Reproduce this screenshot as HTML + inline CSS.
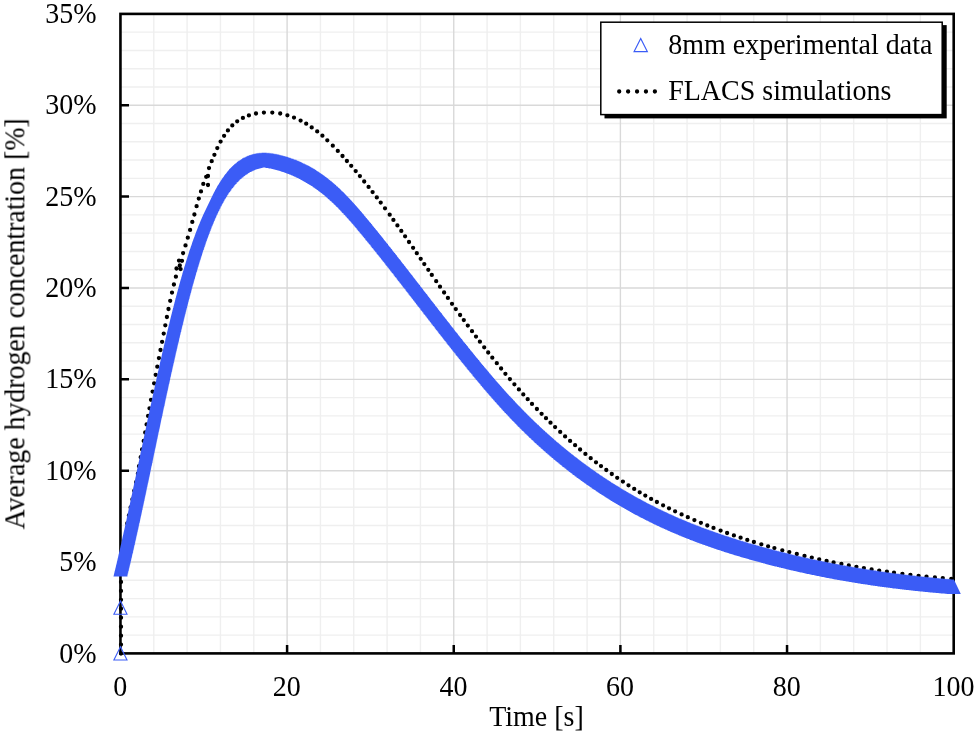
<!DOCTYPE html><html><head><meta charset="utf-8"><style>html,body{margin:0;padding:0;background:#fff}svg{display:block}.tx{filter:grayscale(1)}text{font-family:"Liberation Serif",serif;font-size:28px;fill:#000}</style></head><body>
<svg width="979" height="737" viewBox="0 0 979 737">
<path d="M153.78 13.9V653.4M187.11 13.9V653.4M220.44 13.9V653.4M253.77 13.9V653.4M320.43 13.9V653.4M353.76 13.9V653.4M387.09 13.9V653.4M420.42 13.9V653.4M487.08 13.9V653.4M520.41 13.9V653.4M553.74 13.9V653.4M587.07 13.9V653.4M653.73 13.9V653.4M687.06 13.9V653.4M720.39 13.9V653.4M753.72 13.9V653.4M820.38 13.9V653.4M853.71 13.9V653.4M887.04 13.9V653.4M920.37 13.9V653.4M120.5 635.13H953.7M120.5 616.86H953.7M120.5 598.59H953.7M120.5 580.31H953.7M120.5 543.77H953.7M120.5 525.50H953.7M120.5 507.23H953.7M120.5 488.96H953.7M120.5 452.41H953.7M120.5 434.14H953.7M120.5 415.87H953.7M120.5 397.60H953.7M120.5 361.06H953.7M120.5 342.79H953.7M120.5 324.51H953.7M120.5 306.24H953.7M120.5 269.70H953.7M120.5 251.43H953.7M120.5 233.16H953.7M120.5 214.89H953.7M120.5 178.34H953.7M120.5 160.07H953.7M120.5 141.80H953.7M120.5 123.53H953.7M120.5 86.99H953.7M120.5 68.71H953.7M120.5 50.44H953.7M120.5 32.17H953.7" stroke="#efefef" stroke-width="1.4" fill="none"/>
<path d="M287.10 13.9V653.4M453.75 13.9V653.4M620.40 13.9V653.4M787.05 13.9V653.4M120.5 562.04H953.7M120.5 470.69H953.7M120.5 379.33H953.7M120.5 287.97H953.7M120.5 196.61H953.7M120.5 105.26H953.7" stroke="#d9d9d9" stroke-width="1.4" fill="none"/>
<path d="M287.10 653.4v-8.5M453.75 653.4v-8.5M620.40 653.4v-8.5M787.05 653.4v-8.5M120.5 562.04h8.5M120.5 470.69h8.5M120.5 379.33h8.5M120.5 287.97h8.5M120.5 196.61h8.5M120.5 105.26h8.5" stroke="#000" stroke-width="2.5" fill="none"/>
<rect x="120.45" y="13.90" width="833.25" height="639.50" stroke="#000" stroke-width="2.6" fill="none"/>
<path d="M139.0 466.2h0M140.7 457.2h0M142.1 449.5h0M143.7 440.9h0M145.2 432.5h0M146.6 424.4h0M148.1 415.9h0M149.5 408.3h0M151.0 399.8h0M152.6 391.6h0M154.1 383.3h0M155.7 374.8h0M157.3 366.7h0M158.9 358.1h0M160.5 350.0h0M162.1 341.8h0M163.7 333.6h0M165.3 325.3h0M166.9 317.0h0M168.5 309.0h0M170.2 300.8h0M172.0 292.6h0M173.9 284.5h0M175.9 276.7h0M183.1 253.1h0M185.5 245.4h0M187.8 237.7h0M190.1 229.9h0M192.3 221.9h0M194.4 214.5h0M196.6 206.2h0M198.8 198.6h0M201.0 191.4h0M209.0 168.1h0M211.7 161.2h0M214.4 154.8h0M217.3 148.1h0M220.6 141.6h0M224.1 135.8h0M227.9 130.4h0M232.3 125.4h0M237.2 121.3h0M242.9 117.9h0M248.9 115.4h0M256.0 113.5h0M263.9 112.6h0M272.3 112.6h0M280.2 113.5h0M287.4 115.3h0M294.0 117.6h0M300.6 120.6h0M306.2 123.7h0M311.7 127.4h0M317.2 131.4h0M322.4 135.7h0M327.3 140.3h0M332.8 145.7h0M337.8 150.9h0M342.5 156.0h0M346.9 161.0h0M351.2 165.8h0M355.7 171.1h0M359.9 176.1h0M364.2 181.5h0M368.6 186.9h0M372.6 192.1h0M376.8 197.4h0M380.7 202.6h0M385.0 208.3h0M389.7 214.7h0M393.4 219.9h0M397.4 225.4h0M401.3 230.9h0M405.1 236.3h0M409.0 242.0h0M413.1 247.8h0M416.8 253.2h0M420.7 258.8h0M424.3 264.1h0M428.3 269.8h0M431.8 274.9h0M436.2 281.2h0M440.0 286.7h0M444.1 292.5h0M447.9 297.9h0M452.0 303.8h0M455.8 309.1h0M460.1 315.0h0M463.8 320.1h0M467.8 325.6h0M472.0 331.2h0M476.0 336.6h0M479.9 341.7h0M484.2 347.3h0M488.2 352.5h0M492.3 357.7h0M496.8 363.2h0M501.1 368.5h0M505.4 373.8h0M509.9 379.1h0M514.4 384.3h0M518.9 389.4h0M523.3 394.4h0M527.7 399.2h0M532.0 403.9h0M536.9 409.0h0M541.6 413.8h0M546.0 418.2h0M550.5 422.7h0M555.1 427.1h0M560.2 431.9h0M565.1 436.4h0M570.1 440.9h0M575.1 445.2h0M580.1 449.5h0M585.4 453.9h0M590.7 458.2h0M596.0 462.3h0M601.0 466.1h0M606.3 470.0h0M611.8 474.0h0M617.2 477.8h0M622.9 481.6h0M628.5 485.3h0M634.2 488.9h0M639.7 492.3h0M645.3 495.6h0M651.1 498.9h0M656.9 502.0h0M663.1 505.3h0M669.0 508.3h0M675.1 511.3h0M681.6 514.4h0M687.8 517.2h0M694.4 520.1h0M700.9 522.8h0M707.3 525.5h0M713.5 527.9h0M720.6 530.6h0M727.1 533.0h0M733.9 535.4h0M740.6 537.7h0M747.3 539.9h0M753.9 542.0h0M761.3 544.3h0M768.1 546.3h0M774.4 548.1h0M782.3 550.3h0M789.3 552.1h0M796.8 554.0h0M804.5 555.9h0M811.8 557.6h0M819.2 559.3h0M826.6 561.0h0M833.6 562.4h0M841.4 564.0h0M848.8 565.4h0M856.4 566.8h0M863.9 568.1h0M871.6 569.4h0M879.2 570.6h0M886.9 571.7h0M894.0 572.7h0M902.4 573.8h0M910.4 574.8h0M918.6 575.8h0M926.5 576.6h0M934.9 577.4h0M942.8 578.1h0M951.3 578.8h0M179.0 260.6h0M182.0 260.8h0M179.8 265.5h0M176.5 268.5h0M180.6 269.1h0M206.2 176.8h0M208.0 176.0h0M203.3 183.9h0M208.0 185.0h0M137.9 473.7h0M136.1 482.2h0M134.2 490.8h0M132.4 499.3h0M130.6 507.5h0M128.9 515.5h0M127.2 523.5h0M121.0 653.5h0M121.0 644.6h0M121.0 635.7h0M121.0 626.7h0M121.0 617.7h0M121.0 608.7h0M121.0 599.8h0M121.0 590.9h0M121.0 582.0h0M121.0 573.5h0" fill="none" stroke="#000" stroke-width="4.3" stroke-linecap="round"/>
<path d="M120.5 561.7l7.1 14.8h-14.2zM120.7 560.7l7.1 14.8h-14.2zM120.9 559.8l7.1 14.8h-14.2zM121.2 558.8l7.1 14.8h-14.2zM121.4 557.8l7.1 14.8h-14.2zM121.6 556.8l7.1 14.8h-14.2zM121.9 555.9l7.1 14.8h-14.2zM122.1 554.9l7.1 14.8h-14.2zM122.3 553.9l7.1 14.8h-14.2zM122.6 553.0l7.1 14.8h-14.2zM122.8 552.0l7.1 14.8h-14.2zM123.0 551.0l7.1 14.8h-14.2zM123.3 550.0l7.1 14.8h-14.2zM123.5 549.1l7.1 14.8h-14.2zM123.7 548.1l7.1 14.8h-14.2zM123.9 547.1l7.1 14.8h-14.2zM124.2 546.1l7.1 14.8h-14.2zM124.4 545.2l7.1 14.8h-14.2zM124.6 544.2l7.1 14.8h-14.2zM124.9 543.2l7.1 14.8h-14.2zM125.1 542.2l7.1 14.8h-14.2zM125.3 541.3l7.1 14.8h-14.2zM125.5 540.3l7.1 14.8h-14.2zM125.8 539.3l7.1 14.8h-14.2zM126.0 538.3l7.1 14.8h-14.2zM126.2 537.4l7.1 14.8h-14.2zM126.4 536.4l7.1 14.8h-14.2zM126.7 535.4l7.1 14.8h-14.2zM126.9 534.4l7.1 14.8h-14.2zM127.1 533.5l7.1 14.8h-14.2zM127.3 532.5l7.1 14.8h-14.2zM127.5 531.5l7.1 14.8h-14.2zM127.8 530.5l7.1 14.8h-14.2zM128.0 529.6l7.1 14.8h-14.2zM128.2 528.6l7.1 14.8h-14.2zM128.4 527.6l7.1 14.8h-14.2zM128.6 526.6l7.1 14.8h-14.2zM128.9 525.6l7.1 14.8h-14.2zM129.1 524.7l7.1 14.8h-14.2zM129.3 523.7l7.1 14.8h-14.2zM129.5 522.7l7.1 14.8h-14.2zM129.7 521.7l7.1 14.8h-14.2zM130.0 520.8l7.1 14.8h-14.2zM130.2 519.8l7.1 14.8h-14.2zM130.4 518.8l7.1 14.8h-14.2zM130.6 517.8l7.1 14.8h-14.2zM130.8 516.9l7.1 14.8h-14.2zM131.0 515.9l7.1 14.8h-14.2zM131.3 514.9l7.1 14.8h-14.2zM131.5 513.9l7.1 14.8h-14.2zM131.7 512.9l7.1 14.8h-14.2zM131.9 512.0l7.1 14.8h-14.2zM132.1 511.0l7.1 14.8h-14.2zM132.3 510.0l7.1 14.8h-14.2zM132.5 509.0l7.1 14.8h-14.2zM132.8 508.1l7.1 14.8h-14.2zM133.0 507.1l7.1 14.8h-14.2zM133.2 506.1l7.1 14.8h-14.2zM133.4 505.1l7.1 14.8h-14.2zM133.6 504.1l7.1 14.8h-14.2zM133.8 503.2l7.1 14.8h-14.2zM134.0 502.2l7.1 14.8h-14.2zM134.3 501.2l7.1 14.8h-14.2zM134.5 500.2l7.1 14.8h-14.2zM134.7 499.3l7.1 14.8h-14.2zM134.9 498.3l7.1 14.8h-14.2zM135.1 497.3l7.1 14.8h-14.2zM135.3 496.3l7.1 14.8h-14.2zM135.5 495.3l7.1 14.8h-14.2zM135.7 494.4l7.1 14.8h-14.2zM135.9 493.4l7.1 14.8h-14.2zM136.1 492.4l7.1 14.8h-14.2zM136.4 491.4l7.1 14.8h-14.2zM136.6 490.5l7.1 14.8h-14.2zM136.8 489.5l7.1 14.8h-14.2zM137.0 488.5l7.1 14.8h-14.2zM137.2 487.5l7.1 14.8h-14.2zM137.4 486.5l7.1 14.8h-14.2zM137.6 485.6l7.1 14.8h-14.2zM137.8 484.6l7.1 14.8h-14.2zM138.0 483.6l7.1 14.8h-14.2zM138.2 482.6l7.1 14.8h-14.2zM138.4 481.6l7.1 14.8h-14.2zM138.7 480.7l7.1 14.8h-14.2zM138.9 479.7l7.1 14.8h-14.2zM139.1 478.7l7.1 14.8h-14.2zM139.3 477.7l7.1 14.8h-14.2zM139.5 476.7l7.1 14.8h-14.2zM139.7 475.8l7.1 14.8h-14.2zM139.9 474.8l7.1 14.8h-14.2zM140.1 473.8l7.1 14.8h-14.2zM140.3 472.8l7.1 14.8h-14.2zM140.5 471.9l7.1 14.8h-14.2zM140.7 470.9l7.1 14.8h-14.2zM140.9 469.9l7.1 14.8h-14.2zM141.1 468.9l7.1 14.8h-14.2zM141.4 467.9l7.1 14.8h-14.2zM141.6 467.0l7.1 14.8h-14.2zM141.8 466.0l7.1 14.8h-14.2zM142.0 465.0l7.1 14.8h-14.2zM142.2 464.0l7.1 14.8h-14.2zM142.4 463.0l7.1 14.8h-14.2zM142.6 462.1l7.1 14.8h-14.2zM142.8 461.1l7.1 14.8h-14.2zM143.0 460.1l7.1 14.8h-14.2zM143.2 459.1l7.1 14.8h-14.2zM143.4 458.1l7.1 14.8h-14.2zM143.6 457.2l7.1 14.8h-14.2zM143.8 456.2l7.1 14.8h-14.2zM144.0 455.2l7.1 14.8h-14.2zM144.2 454.2l7.1 14.8h-14.2zM144.4 453.2l7.1 14.8h-14.2zM144.6 452.3l7.1 14.8h-14.2zM144.9 451.3l7.1 14.8h-14.2zM145.1 450.3l7.1 14.8h-14.2zM145.3 449.3l7.1 14.8h-14.2zM145.5 448.3l7.1 14.8h-14.2zM145.7 447.4l7.1 14.8h-14.2zM145.9 446.4l7.1 14.8h-14.2zM146.1 445.4l7.1 14.8h-14.2zM146.3 444.4l7.1 14.8h-14.2zM146.5 443.4l7.1 14.8h-14.2zM146.7 442.5l7.1 14.8h-14.2zM146.9 441.5l7.1 14.8h-14.2zM147.1 440.5l7.1 14.8h-14.2zM147.3 439.5l7.1 14.8h-14.2zM147.5 438.5l7.1 14.8h-14.2zM147.7 437.6l7.1 14.8h-14.2zM147.9 436.6l7.1 14.8h-14.2zM148.1 435.6l7.1 14.8h-14.2zM148.3 434.6l7.1 14.8h-14.2zM148.6 433.7l7.1 14.8h-14.2zM148.8 432.7l7.1 14.8h-14.2zM149.0 431.7l7.1 14.8h-14.2zM149.2 430.7l7.1 14.8h-14.2zM149.4 429.7l7.1 14.8h-14.2zM149.6 428.8l7.1 14.8h-14.2zM149.8 427.8l7.1 14.8h-14.2zM150.0 426.8l7.1 14.8h-14.2zM150.2 425.8l7.1 14.8h-14.2zM150.4 424.8l7.1 14.8h-14.2zM150.6 423.9l7.1 14.8h-14.2zM150.8 422.9l7.1 14.8h-14.2zM151.0 421.9l7.1 14.8h-14.2zM151.2 420.9l7.1 14.8h-14.2zM151.4 419.9l7.1 14.8h-14.2zM151.6 419.0l7.1 14.8h-14.2zM151.8 418.0l7.1 14.8h-14.2zM152.1 417.0l7.1 14.8h-14.2zM152.3 416.0l7.1 14.8h-14.2zM152.5 415.0l7.1 14.8h-14.2zM152.7 414.1l7.1 14.8h-14.2zM152.9 413.1l7.1 14.8h-14.2zM153.1 412.1l7.1 14.8h-14.2zM153.3 411.1l7.1 14.8h-14.2zM153.5 410.1l7.1 14.8h-14.2zM153.7 409.2l7.1 14.8h-14.2zM153.9 408.2l7.1 14.8h-14.2zM154.1 407.2l7.1 14.8h-14.2zM154.3 406.2l7.1 14.8h-14.2zM154.5 405.3l7.1 14.8h-14.2zM154.7 404.3l7.1 14.8h-14.2zM155.0 403.3l7.1 14.8h-14.2zM155.2 402.3l7.1 14.8h-14.2zM155.4 401.3l7.1 14.8h-14.2zM155.6 400.4l7.1 14.8h-14.2zM155.8 399.4l7.1 14.8h-14.2zM156.0 398.4l7.1 14.8h-14.2zM156.2 397.4l7.1 14.8h-14.2zM156.4 396.4l7.1 14.8h-14.2zM156.6 395.5l7.1 14.8h-14.2zM156.8 394.5l7.1 14.8h-14.2zM157.0 393.5l7.1 14.8h-14.2zM157.3 392.5l7.1 14.8h-14.2zM157.5 391.5l7.1 14.8h-14.2zM157.7 390.6l7.1 14.8h-14.2zM157.9 389.6l7.1 14.8h-14.2zM158.1 388.6l7.1 14.8h-14.2zM158.3 387.6l7.1 14.8h-14.2zM158.5 386.7l7.1 14.8h-14.2zM158.7 385.7l7.1 14.8h-14.2zM158.9 384.7l7.1 14.8h-14.2zM159.2 383.7l7.1 14.8h-14.2zM159.4 382.7l7.1 14.8h-14.2zM159.6 381.8l7.1 14.8h-14.2zM159.8 380.8l7.1 14.8h-14.2zM160.0 379.8l7.1 14.8h-14.2zM160.2 378.8l7.1 14.8h-14.2zM160.4 377.9l7.1 14.8h-14.2zM160.6 376.9l7.1 14.8h-14.2zM160.9 375.9l7.1 14.8h-14.2zM161.1 374.9l7.1 14.8h-14.2zM161.3 373.9l7.1 14.8h-14.2zM161.5 373.0l7.1 14.8h-14.2zM161.7 372.0l7.1 14.8h-14.2zM161.9 371.0l7.1 14.8h-14.2zM162.1 370.0l7.1 14.8h-14.2zM162.4 369.1l7.1 14.8h-14.2zM162.6 368.1l7.1 14.8h-14.2zM162.8 367.1l7.1 14.8h-14.2zM163.0 366.1l7.1 14.8h-14.2zM163.2 365.1l7.1 14.8h-14.2zM163.4 364.2l7.1 14.8h-14.2zM163.6 363.2l7.1 14.8h-14.2zM163.9 362.2l7.1 14.8h-14.2zM164.1 361.2l7.1 14.8h-14.2zM164.3 360.3l7.1 14.8h-14.2zM164.5 359.3l7.1 14.8h-14.2zM164.7 358.3l7.1 14.8h-14.2zM164.9 357.3l7.1 14.8h-14.2zM165.2 356.4l7.1 14.8h-14.2zM165.4 355.4l7.1 14.8h-14.2zM165.6 354.4l7.1 14.8h-14.2zM165.8 353.4l7.1 14.8h-14.2zM166.0 352.4l7.1 14.8h-14.2zM166.3 351.5l7.1 14.8h-14.2zM166.5 350.5l7.1 14.8h-14.2zM166.7 349.5l7.1 14.8h-14.2zM166.9 348.5l7.1 14.8h-14.2zM167.1 347.6l7.1 14.8h-14.2zM167.4 346.6l7.1 14.8h-14.2zM167.6 345.6l7.1 14.8h-14.2zM167.8 344.6l7.1 14.8h-14.2zM168.0 343.7l7.1 14.8h-14.2zM168.3 342.7l7.1 14.8h-14.2zM168.5 341.7l7.1 14.8h-14.2zM168.7 340.7l7.1 14.8h-14.2zM168.9 339.8l7.1 14.8h-14.2zM169.1 338.8l7.1 14.8h-14.2zM169.4 337.8l7.1 14.8h-14.2zM169.6 336.8l7.1 14.8h-14.2zM169.8 335.9l7.1 14.8h-14.2zM170.0 334.9l7.1 14.8h-14.2zM170.3 333.9l7.1 14.8h-14.2zM170.5 332.9l7.1 14.8h-14.2zM170.7 332.0l7.1 14.8h-14.2zM170.9 331.0l7.1 14.8h-14.2zM171.2 330.0l7.1 14.8h-14.2zM171.4 329.0l7.1 14.8h-14.2zM171.6 328.1l7.1 14.8h-14.2zM171.9 327.1l7.1 14.8h-14.2zM172.1 326.1l7.1 14.8h-14.2zM172.3 325.1l7.1 14.8h-14.2zM172.5 324.2l7.1 14.8h-14.2zM172.8 323.2l7.1 14.8h-14.2zM173.0 322.2l7.1 14.8h-14.2zM173.2 321.2l7.1 14.8h-14.2zM173.5 320.3l7.1 14.8h-14.2zM173.7 319.3l7.1 14.8h-14.2zM173.9 318.3l7.1 14.8h-14.2zM174.2 317.3l7.1 14.8h-14.2zM174.4 316.4l7.1 14.8h-14.2zM174.6 315.4l7.1 14.8h-14.2zM174.9 314.4l7.1 14.8h-14.2zM175.1 313.5l7.1 14.8h-14.2zM175.3 312.5l7.1 14.8h-14.2zM175.6 311.5l7.1 14.8h-14.2zM175.8 310.5l7.1 14.8h-14.2zM176.1 309.6l7.1 14.8h-14.2zM176.3 308.6l7.1 14.8h-14.2zM176.5 307.6l7.1 14.8h-14.2zM176.8 306.6l7.1 14.8h-14.2zM177.0 305.7l7.1 14.8h-14.2zM177.2 304.7l7.1 14.8h-14.2zM177.5 303.7l7.1 14.8h-14.2zM177.7 302.8l7.1 14.8h-14.2zM178.0 301.8l7.1 14.8h-14.2zM178.2 300.8l7.1 14.8h-14.2zM178.5 299.8l7.1 14.8h-14.2zM178.7 298.9l7.1 14.8h-14.2zM178.9 297.9l7.1 14.8h-14.2zM179.2 296.9l7.1 14.8h-14.2zM179.4 296.0l7.1 14.8h-14.2zM179.7 295.0l7.1 14.8h-14.2zM179.9 294.0l7.1 14.8h-14.2zM180.2 293.1l7.1 14.8h-14.2zM180.4 292.1l7.1 14.8h-14.2zM180.7 291.1l7.1 14.8h-14.2zM180.9 290.1l7.1 14.8h-14.2zM181.2 289.2l7.1 14.8h-14.2zM181.4 288.2l7.1 14.8h-14.2zM181.7 287.2l7.1 14.8h-14.2zM181.9 286.3l7.1 14.8h-14.2zM182.2 285.3l7.1 14.8h-14.2zM182.4 284.3l7.1 14.8h-14.2zM182.7 283.4l7.1 14.8h-14.2zM182.9 282.4l7.1 14.8h-14.2zM183.2 281.4l7.1 14.8h-14.2zM183.5 280.5l7.1 14.8h-14.2zM183.7 279.5l7.1 14.8h-14.2zM184.0 278.5l7.1 14.8h-14.2zM184.2 277.6l7.1 14.8h-14.2zM184.5 276.6l7.1 14.8h-14.2zM184.7 275.6l7.1 14.8h-14.2zM185.0 274.7l7.1 14.8h-14.2zM185.3 273.7l7.1 14.8h-14.2zM185.5 272.7l7.1 14.8h-14.2zM185.8 271.8l7.1 14.8h-14.2zM186.1 270.8l7.1 14.8h-14.2zM186.3 269.8l7.1 14.8h-14.2zM186.6 268.9l7.1 14.8h-14.2zM186.9 267.9l7.1 14.8h-14.2zM187.1 266.9l7.1 14.8h-14.2zM187.4 266.0l7.1 14.8h-14.2zM187.7 265.0l7.1 14.8h-14.2zM188.0 264.1l7.1 14.8h-14.2zM188.2 263.1l7.1 14.8h-14.2zM188.5 262.1l7.1 14.8h-14.2zM188.8 261.2l7.1 14.8h-14.2zM189.1 260.2l7.1 14.8h-14.2zM189.3 259.2l7.1 14.8h-14.2zM189.6 258.3l7.1 14.8h-14.2zM189.9 257.3l7.1 14.8h-14.2zM190.2 256.4l7.1 14.8h-14.2zM190.5 255.4l7.1 14.8h-14.2zM190.8 254.4l7.1 14.8h-14.2zM191.0 253.5l7.1 14.8h-14.2zM191.3 252.5l7.1 14.8h-14.2zM191.6 251.6l7.1 14.8h-14.2zM191.9 250.6l7.1 14.8h-14.2zM192.2 249.7l7.1 14.8h-14.2zM192.5 248.7l7.1 14.8h-14.2zM192.8 247.7l7.1 14.8h-14.2zM193.1 246.8l7.1 14.8h-14.2zM193.4 245.8l7.1 14.8h-14.2zM193.7 244.9l7.1 14.8h-14.2zM194.0 243.9l7.1 14.8h-14.2zM194.3 243.0l7.1 14.8h-14.2zM194.6 242.0l7.1 14.8h-14.2zM194.9 241.1l7.1 14.8h-14.2zM195.2 240.1l7.1 14.8h-14.2zM195.5 239.2l7.1 14.8h-14.2zM195.8 238.2l7.1 14.8h-14.2zM196.1 237.2l7.1 14.8h-14.2zM196.4 236.3l7.1 14.8h-14.2zM196.8 235.3l7.1 14.8h-14.2zM197.1 234.4l7.1 14.8h-14.2zM197.4 233.5l7.1 14.8h-14.2zM197.7 232.5l7.1 14.8h-14.2zM198.0 231.6l7.1 14.8h-14.2zM198.4 230.6l7.1 14.8h-14.2zM198.7 229.7l7.1 14.8h-14.2zM199.0 228.7l7.1 14.8h-14.2zM199.3 227.8l7.1 14.8h-14.2zM199.7 226.8l7.1 14.8h-14.2zM200.0 225.9l7.1 14.8h-14.2zM200.3 224.9l7.1 14.8h-14.2zM200.7 224.0l7.1 14.8h-14.2zM201.0 223.1l7.1 14.8h-14.2zM201.4 222.1l7.1 14.8h-14.2zM201.7 221.2l7.1 14.8h-14.2zM202.1 220.2l7.1 14.8h-14.2zM202.4 219.3l7.1 14.8h-14.2zM202.8 218.4l7.1 14.8h-14.2zM203.1 217.4l7.1 14.8h-14.2zM203.5 216.5l7.1 14.8h-14.2zM203.8 215.6l7.1 14.8h-14.2zM204.2 214.6l7.1 14.8h-14.2zM204.6 213.7l7.1 14.8h-14.2zM204.9 212.8l7.1 14.8h-14.2zM205.3 211.8l7.1 14.8h-14.2zM205.7 210.9l7.1 14.8h-14.2zM206.1 210.0l7.1 14.8h-14.2zM206.5 209.1l7.1 14.8h-14.2zM206.8 208.1l7.1 14.8h-14.2zM207.2 207.2l7.1 14.8h-14.2zM207.6 206.3l7.1 14.8h-14.2zM208.0 205.4l7.1 14.8h-14.2zM208.4 204.5l7.1 14.8h-14.2zM208.8 203.5l7.1 14.8h-14.2zM209.2 202.6l7.1 14.8h-14.2zM209.6 201.7l7.1 14.8h-14.2zM210.0 200.8l7.1 14.8h-14.2zM210.5 199.9l7.1 14.8h-14.2zM210.9 199.0l7.1 14.8h-14.2zM211.3 198.1l7.1 14.8h-14.2zM211.7 197.2l7.1 14.8h-14.2zM212.2 196.3l7.1 14.8h-14.2zM212.6 195.4l7.1 14.8h-14.2zM213.0 194.5l7.1 14.8h-14.2zM213.5 193.6l7.1 14.8h-14.2zM213.9 192.7l7.1 14.8h-14.2zM214.4 191.8l7.1 14.8h-14.2zM214.9 190.9l7.1 14.8h-14.2zM215.3 190.0l7.1 14.8h-14.2zM215.8 189.1l7.1 14.8h-14.2zM216.3 188.3l7.1 14.8h-14.2zM216.8 187.4l7.1 14.8h-14.2zM217.2 186.5l7.1 14.8h-14.2zM217.7 185.6l7.1 14.8h-14.2zM218.2 184.8l7.1 14.8h-14.2zM218.8 183.9l7.1 14.8h-14.2zM219.3 183.1l7.1 14.8h-14.2zM219.8 182.2l7.1 14.8h-14.2zM220.3 181.4l7.1 14.8h-14.2zM220.9 180.5l7.1 14.8h-14.2zM221.4 179.7l7.1 14.8h-14.2zM222.0 178.8l7.1 14.8h-14.2zM222.5 178.0l7.1 14.8h-14.2zM223.1 177.2l7.1 14.8h-14.2zM223.7 176.4l7.1 14.8h-14.2zM224.3 175.6l7.1 14.8h-14.2zM224.8 174.7l7.1 14.8h-14.2zM225.4 173.9l7.1 14.8h-14.2zM226.1 173.2l7.1 14.8h-14.2zM226.7 172.4l7.1 14.8h-14.2zM227.3 171.6l7.1 14.8h-14.2zM228.0 170.8l7.1 14.8h-14.2zM228.6 170.1l7.1 14.8h-14.2zM229.3 169.3l7.1 14.8h-14.2zM229.9 168.6l7.1 14.8h-14.2zM230.6 167.8l7.1 14.8h-14.2zM231.3 167.1l7.1 14.8h-14.2zM232.0 166.4l7.1 14.8h-14.2zM232.7 165.7l7.1 14.8h-14.2zM233.4 165.0l7.1 14.8h-14.2zM234.2 164.3l7.1 14.8h-14.2zM234.9 163.7l7.1 14.8h-14.2zM235.7 163.0l7.1 14.8h-14.2zM236.5 162.4l7.1 14.8h-14.2zM237.2 161.7l7.1 14.8h-14.2zM238.0 161.1l7.1 14.8h-14.2zM238.8 160.5l7.1 14.8h-14.2zM239.7 160.0l7.1 14.8h-14.2zM240.5 159.4l7.1 14.8h-14.2zM241.3 158.9l7.1 14.8h-14.2zM242.2 158.3l7.1 14.8h-14.2zM243.0 157.8l7.1 14.8h-14.2zM243.9 157.3l7.1 14.8h-14.2zM244.8 156.9l7.1 14.8h-14.2zM245.7 156.4l7.1 14.8h-14.2zM246.6 156.0l7.1 14.8h-14.2zM247.5 155.6l7.1 14.8h-14.2zM248.4 155.2l7.1 14.8h-14.2zM249.4 154.8l7.1 14.8h-14.2zM250.3 154.5l7.1 14.8h-14.2zM251.3 154.2l7.1 14.8h-14.2zM252.2 153.9l7.1 14.8h-14.2zM253.2 153.6l7.1 14.8h-14.2zM254.2 153.4l7.1 14.8h-14.2zM255.1 153.2l7.1 14.8h-14.2zM256.1 153.0l7.1 14.8h-14.2zM257.1 152.8l7.1 14.8h-14.2zM258.1 152.7l7.1 14.8h-14.2zM259.1 152.6l7.1 14.8h-14.2zM260.1 152.5l7.1 14.8h-14.2zM261.1 152.4l7.1 14.8h-14.2zM262.1 152.3l7.1 14.8h-14.2zM263.1 152.3l7.1 14.8h-14.2zM264.1 152.3l7.1 14.8h-14.2zM265.1 152.3l7.1 14.8h-14.2zM266.1 152.3l7.1 14.8h-14.2zM267.1 152.4l7.1 14.8h-14.2zM268.1 152.5l7.1 14.8h-14.2zM269.1 152.6l7.1 14.8h-14.2zM270.1 152.7l7.1 14.8h-14.2zM271.1 152.8l7.1 14.8h-14.2zM272.1 152.9l7.1 14.8h-14.2zM273.0 153.1l7.1 14.8h-14.2zM274.0 153.2l7.1 14.8h-14.2zM275.0 153.4l7.1 14.8h-14.2zM276.0 153.6l7.1 14.8h-14.2zM277.0 153.8l7.1 14.8h-14.2zM278.0 154.0l7.1 14.8h-14.2zM278.9 154.2l7.1 14.8h-14.2zM279.9 154.5l7.1 14.8h-14.2zM280.9 154.7l7.1 14.8h-14.2zM281.9 155.0l7.1 14.8h-14.2zM282.8 155.2l7.1 14.8h-14.2zM283.8 155.5l7.1 14.8h-14.2zM284.7 155.7l7.1 14.8h-14.2zM285.7 156.0l7.1 14.8h-14.2zM286.7 156.3l7.1 14.8h-14.2zM287.6 156.6l7.1 14.8h-14.2zM288.6 156.9l7.1 14.8h-14.2zM289.5 157.2l7.1 14.8h-14.2zM290.5 157.5l7.1 14.8h-14.2zM291.4 157.9l7.1 14.8h-14.2zM292.4 158.2l7.1 14.8h-14.2zM293.3 158.6l7.1 14.8h-14.2zM294.2 158.9l7.1 14.8h-14.2zM295.2 159.3l7.1 14.8h-14.2zM296.1 159.6l7.1 14.8h-14.2zM297.0 160.0l7.1 14.8h-14.2zM298.0 160.4l7.1 14.8h-14.2zM298.9 160.8l7.1 14.8h-14.2zM299.8 161.2l7.1 14.8h-14.2zM300.7 161.6l7.1 14.8h-14.2zM301.6 162.0l7.1 14.8h-14.2zM302.5 162.4l7.1 14.8h-14.2zM303.4 162.9l7.1 14.8h-14.2zM304.3 163.3l7.1 14.8h-14.2zM305.2 163.8l7.1 14.8h-14.2zM306.1 164.2l7.1 14.8h-14.2zM307.0 164.7l7.1 14.8h-14.2zM307.9 165.1l7.1 14.8h-14.2zM308.8 165.6l7.1 14.8h-14.2zM309.7 166.1l7.1 14.8h-14.2zM310.5 166.6l7.1 14.8h-14.2zM311.4 167.1l7.1 14.8h-14.2zM312.3 167.6l7.1 14.8h-14.2zM313.1 168.1l7.1 14.8h-14.2zM314.0 168.6l7.1 14.8h-14.2zM314.8 169.1l7.1 14.8h-14.2zM315.7 169.6l7.1 14.8h-14.2zM316.5 170.2l7.1 14.8h-14.2zM317.4 170.7l7.1 14.8h-14.2zM318.2 171.3l7.1 14.8h-14.2zM319.0 171.8l7.1 14.8h-14.2zM319.9 172.4l7.1 14.8h-14.2zM320.7 172.9l7.1 14.8h-14.2zM321.5 173.5l7.1 14.8h-14.2zM322.3 174.1l7.1 14.8h-14.2zM323.2 174.7l7.1 14.8h-14.2zM324.0 175.3l7.1 14.8h-14.2zM324.8 175.9l7.1 14.8h-14.2zM325.6 176.5l7.1 14.8h-14.2zM326.4 177.1l7.1 14.8h-14.2zM327.2 177.7l7.1 14.8h-14.2zM327.9 178.3l7.1 14.8h-14.2zM328.7 178.9l7.1 14.8h-14.2zM329.5 179.5l7.1 14.8h-14.2zM330.3 180.2l7.1 14.8h-14.2zM331.1 180.8l7.1 14.8h-14.2zM331.8 181.5l7.1 14.8h-14.2zM332.6 182.1l7.1 14.8h-14.2zM333.3 182.8l7.1 14.8h-14.2zM334.1 183.4l7.1 14.8h-14.2zM334.9 184.1l7.1 14.8h-14.2zM335.6 184.7l7.1 14.8h-14.2zM336.3 185.4l7.1 14.8h-14.2zM337.1 186.1l7.1 14.8h-14.2zM337.8 186.8l7.1 14.8h-14.2zM338.6 187.4l7.1 14.8h-14.2zM339.3 188.1l7.1 14.8h-14.2zM340.0 188.8l7.1 14.8h-14.2zM340.7 189.5l7.1 14.8h-14.2zM341.4 190.2l7.1 14.8h-14.2zM342.2 190.9l7.1 14.8h-14.2zM342.9 191.6l7.1 14.8h-14.2zM343.6 192.3l7.1 14.8h-14.2zM344.3 193.0l7.1 14.8h-14.2zM345.0 193.7l7.1 14.8h-14.2zM345.7 194.5l7.1 14.8h-14.2zM346.4 195.2l7.1 14.8h-14.2zM347.1 195.9l7.1 14.8h-14.2zM347.8 196.6l7.1 14.8h-14.2zM348.5 197.4l7.1 14.8h-14.2zM349.1 198.1l7.1 14.8h-14.2zM349.8 198.8l7.1 14.8h-14.2zM350.5 199.6l7.1 14.8h-14.2zM351.2 200.3l7.1 14.8h-14.2zM351.9 201.0l7.1 14.8h-14.2zM352.5 201.8l7.1 14.8h-14.2zM353.2 202.5l7.1 14.8h-14.2zM353.9 203.2l7.1 14.8h-14.2zM354.5 204.0l7.1 14.8h-14.2zM355.2 204.7l7.1 14.8h-14.2zM355.9 205.5l7.1 14.8h-14.2zM356.5 206.2l7.1 14.8h-14.2zM357.2 207.0l7.1 14.8h-14.2zM357.9 207.7l7.1 14.8h-14.2zM358.5 208.5l7.1 14.8h-14.2zM359.2 209.3l7.1 14.8h-14.2zM359.8 210.0l7.1 14.8h-14.2zM360.5 210.8l7.1 14.8h-14.2zM361.1 211.5l7.1 14.8h-14.2zM361.8 212.3l7.1 14.8h-14.2zM362.4 213.1l7.1 14.8h-14.2zM363.1 213.8l7.1 14.8h-14.2zM363.7 214.6l7.1 14.8h-14.2zM364.4 215.4l7.1 14.8h-14.2zM365.0 216.1l7.1 14.8h-14.2zM365.6 216.9l7.1 14.8h-14.2zM366.3 217.7l7.1 14.8h-14.2zM366.9 218.4l7.1 14.8h-14.2zM367.6 219.2l7.1 14.8h-14.2zM368.2 220.0l7.1 14.8h-14.2zM368.8 220.7l7.1 14.8h-14.2zM369.5 221.5l7.1 14.8h-14.2zM370.1 222.3l7.1 14.8h-14.2zM370.7 223.1l7.1 14.8h-14.2zM371.4 223.8l7.1 14.8h-14.2zM372.0 224.6l7.1 14.8h-14.2zM372.6 225.4l7.1 14.8h-14.2zM373.3 226.2l7.1 14.8h-14.2zM373.9 226.9l7.1 14.8h-14.2zM374.5 227.7l7.1 14.8h-14.2zM375.2 228.5l7.1 14.8h-14.2zM375.8 229.3l7.1 14.8h-14.2zM376.4 230.0l7.1 14.8h-14.2zM377.1 230.8l7.1 14.8h-14.2zM377.7 231.6l7.1 14.8h-14.2zM378.3 232.4l7.1 14.8h-14.2zM378.9 233.2l7.1 14.8h-14.2zM379.6 233.9l7.1 14.8h-14.2zM380.2 234.7l7.1 14.8h-14.2zM380.8 235.5l7.1 14.8h-14.2zM381.4 236.3l7.1 14.8h-14.2zM382.1 237.1l7.1 14.8h-14.2zM382.7 237.8l7.1 14.8h-14.2zM383.3 238.6l7.1 14.8h-14.2zM383.9 239.4l7.1 14.8h-14.2zM384.6 240.2l7.1 14.8h-14.2zM385.2 241.0l7.1 14.8h-14.2zM385.8 241.8l7.1 14.8h-14.2zM386.4 242.5l7.1 14.8h-14.2zM387.1 243.3l7.1 14.8h-14.2zM387.7 244.1l7.1 14.8h-14.2zM388.3 244.9l7.1 14.8h-14.2zM388.9 245.7l7.1 14.8h-14.2zM389.6 246.5l7.1 14.8h-14.2zM390.2 247.2l7.1 14.8h-14.2zM390.8 248.0l7.1 14.8h-14.2zM391.4 248.8l7.1 14.8h-14.2zM392.0 249.6l7.1 14.8h-14.2zM392.7 250.4l7.1 14.8h-14.2zM393.3 251.2l7.1 14.8h-14.2zM393.9 252.0l7.1 14.8h-14.2zM394.5 252.7l7.1 14.8h-14.2zM395.1 253.5l7.1 14.8h-14.2zM395.8 254.3l7.1 14.8h-14.2zM396.4 255.1l7.1 14.8h-14.2zM397.0 255.9l7.1 14.8h-14.2zM397.6 256.7l7.1 14.8h-14.2zM398.2 257.5l7.1 14.8h-14.2zM398.8 258.3l7.1 14.8h-14.2zM399.5 259.0l7.1 14.8h-14.2zM400.1 259.8l7.1 14.8h-14.2zM400.7 260.6l7.1 14.8h-14.2zM401.3 261.4l7.1 14.8h-14.2zM401.9 262.2l7.1 14.8h-14.2zM402.5 263.0l7.1 14.8h-14.2zM403.2 263.8l7.1 14.8h-14.2zM403.8 264.6l7.1 14.8h-14.2zM404.4 265.4l7.1 14.8h-14.2zM405.0 266.1l7.1 14.8h-14.2zM405.6 266.9l7.1 14.8h-14.2zM406.2 267.7l7.1 14.8h-14.2zM406.8 268.5l7.1 14.8h-14.2zM407.5 269.3l7.1 14.8h-14.2zM408.1 270.1l7.1 14.8h-14.2zM408.7 270.9l7.1 14.8h-14.2zM409.3 271.7l7.1 14.8h-14.2zM409.9 272.5l7.1 14.8h-14.2zM410.5 273.3l7.1 14.8h-14.2zM411.1 274.0l7.1 14.8h-14.2zM411.8 274.8l7.1 14.8h-14.2zM412.4 275.6l7.1 14.8h-14.2zM413.0 276.4l7.1 14.8h-14.2zM413.6 277.2l7.1 14.8h-14.2zM414.2 278.0l7.1 14.8h-14.2zM414.8 278.8l7.1 14.8h-14.2zM415.4 279.6l7.1 14.8h-14.2zM416.1 280.4l7.1 14.8h-14.2zM416.7 281.2l7.1 14.8h-14.2zM417.3 282.0l7.1 14.8h-14.2zM417.9 282.7l7.1 14.8h-14.2zM418.5 283.5l7.1 14.8h-14.2zM419.1 284.3l7.1 14.8h-14.2zM419.7 285.1l7.1 14.8h-14.2zM420.3 285.9l7.1 14.8h-14.2zM421.0 286.7l7.1 14.8h-14.2zM421.6 287.5l7.1 14.8h-14.2zM422.2 288.3l7.1 14.8h-14.2zM422.8 289.1l7.1 14.8h-14.2zM423.4 289.9l7.1 14.8h-14.2zM424.0 290.7l7.1 14.8h-14.2zM424.6 291.5l7.1 14.8h-14.2zM425.2 292.2l7.1 14.8h-14.2zM425.8 293.0l7.1 14.8h-14.2zM426.5 293.8l7.1 14.8h-14.2zM427.1 294.6l7.1 14.8h-14.2zM427.7 295.4l7.1 14.8h-14.2zM428.3 296.2l7.1 14.8h-14.2zM428.9 297.0l7.1 14.8h-14.2zM429.5 297.8l7.1 14.8h-14.2zM430.1 298.6l7.1 14.8h-14.2zM430.7 299.4l7.1 14.8h-14.2zM431.4 300.2l7.1 14.8h-14.2zM432.0 301.0l7.1 14.8h-14.2zM432.6 301.7l7.1 14.8h-14.2zM433.2 302.5l7.1 14.8h-14.2zM433.8 303.3l7.1 14.8h-14.2zM434.4 304.1l7.1 14.8h-14.2zM435.0 304.9l7.1 14.8h-14.2zM435.6 305.7l7.1 14.8h-14.2zM436.3 306.5l7.1 14.8h-14.2zM436.9 307.3l7.1 14.8h-14.2zM437.5 308.1l7.1 14.8h-14.2zM438.1 308.9l7.1 14.8h-14.2zM438.7 309.7l7.1 14.8h-14.2zM439.3 310.4l7.1 14.8h-14.2zM439.9 311.2l7.1 14.8h-14.2zM440.6 312.0l7.1 14.8h-14.2zM441.2 312.8l7.1 14.8h-14.2zM441.8 313.6l7.1 14.8h-14.2zM442.4 314.4l7.1 14.8h-14.2zM443.0 315.2l7.1 14.8h-14.2zM443.6 316.0l7.1 14.8h-14.2zM444.2 316.8l7.1 14.8h-14.2zM444.9 317.6l7.1 14.8h-14.2zM445.5 318.4l7.1 14.8h-14.2zM446.1 319.1l7.1 14.8h-14.2zM446.7 319.9l7.1 14.8h-14.2zM447.3 320.7l7.1 14.8h-14.2zM447.9 321.5l7.1 14.8h-14.2zM448.6 322.3l7.1 14.8h-14.2zM449.2 323.1l7.1 14.8h-14.2zM449.8 323.9l7.1 14.8h-14.2zM450.4 324.7l7.1 14.8h-14.2zM451.0 325.4l7.1 14.8h-14.2zM451.6 326.2l7.1 14.8h-14.2zM452.3 327.0l7.1 14.8h-14.2zM452.9 327.8l7.1 14.8h-14.2zM453.5 328.6l7.1 14.8h-14.2zM454.1 329.4l7.1 14.8h-14.2zM454.7 330.2l7.1 14.8h-14.2zM455.3 331.0l7.1 14.8h-14.2zM456.0 331.7l7.1 14.8h-14.2zM456.6 332.5l7.1 14.8h-14.2zM457.2 333.3l7.1 14.8h-14.2zM457.8 334.1l7.1 14.8h-14.2zM458.5 334.9l7.1 14.8h-14.2zM459.1 335.7l7.1 14.8h-14.2zM459.7 336.5l7.1 14.8h-14.2zM460.3 337.2l7.1 14.8h-14.2zM460.9 338.0l7.1 14.8h-14.2zM461.6 338.8l7.1 14.8h-14.2zM462.2 339.6l7.1 14.8h-14.2zM462.8 340.4l7.1 14.8h-14.2zM463.4 341.2l7.1 14.8h-14.2zM464.1 341.9l7.1 14.8h-14.2zM464.7 342.7l7.1 14.8h-14.2zM465.3 343.5l7.1 14.8h-14.2zM465.9 344.3l7.1 14.8h-14.2zM466.6 345.1l7.1 14.8h-14.2zM467.2 345.8l7.1 14.8h-14.2zM467.8 346.6l7.1 14.8h-14.2zM468.4 347.4l7.1 14.8h-14.2zM469.1 348.2l7.1 14.8h-14.2zM469.7 349.0l7.1 14.8h-14.2zM470.3 349.7l7.1 14.8h-14.2zM471.0 350.5l7.1 14.8h-14.2zM471.6 351.3l7.1 14.8h-14.2zM472.2 352.1l7.1 14.8h-14.2zM472.8 352.8l7.1 14.8h-14.2zM473.5 353.6l7.1 14.8h-14.2zM474.1 354.4l7.1 14.8h-14.2zM474.7 355.2l7.1 14.8h-14.2zM475.4 355.9l7.1 14.8h-14.2zM476.0 356.7l7.1 14.8h-14.2zM476.6 357.5l7.1 14.8h-14.2zM477.3 358.3l7.1 14.8h-14.2zM477.9 359.0l7.1 14.8h-14.2zM478.6 359.8l7.1 14.8h-14.2zM479.2 360.6l7.1 14.8h-14.2zM479.8 361.4l7.1 14.8h-14.2zM480.5 362.1l7.1 14.8h-14.2zM481.1 362.9l7.1 14.8h-14.2zM481.7 363.7l7.1 14.8h-14.2zM482.4 364.4l7.1 14.8h-14.2zM483.0 365.2l7.1 14.8h-14.2zM483.7 366.0l7.1 14.8h-14.2zM484.3 366.7l7.1 14.8h-14.2zM485.0 367.5l7.1 14.8h-14.2zM485.6 368.3l7.1 14.8h-14.2zM486.2 369.0l7.1 14.8h-14.2zM486.9 369.8l7.1 14.8h-14.2zM487.5 370.6l7.1 14.8h-14.2zM488.2 371.3l7.1 14.8h-14.2zM488.8 372.1l7.1 14.8h-14.2zM489.5 372.9l7.1 14.8h-14.2zM490.1 373.6l7.1 14.8h-14.2zM490.8 374.4l7.1 14.8h-14.2zM491.4 375.1l7.1 14.8h-14.2zM492.1 375.9l7.1 14.8h-14.2zM492.7 376.7l7.1 14.8h-14.2zM493.4 377.4l7.1 14.8h-14.2zM494.0 378.2l7.1 14.8h-14.2zM494.7 378.9l7.1 14.8h-14.2zM495.3 379.7l7.1 14.8h-14.2zM496.0 380.5l7.1 14.8h-14.2zM496.6 381.2l7.1 14.8h-14.2zM497.3 382.0l7.1 14.8h-14.2zM498.0 382.7l7.1 14.8h-14.2zM498.6 383.5l7.1 14.8h-14.2zM499.3 384.2l7.1 14.8h-14.2zM499.9 385.0l7.1 14.8h-14.2zM500.6 385.7l7.1 14.8h-14.2zM501.3 386.5l7.1 14.8h-14.2zM501.9 387.2l7.1 14.8h-14.2zM502.6 388.0l7.1 14.8h-14.2zM503.3 388.7l7.1 14.8h-14.2zM503.9 389.5l7.1 14.8h-14.2zM504.6 390.2l7.1 14.8h-14.2zM505.3 391.0l7.1 14.8h-14.2zM505.9 391.7l7.1 14.8h-14.2zM506.6 392.4l7.1 14.8h-14.2zM507.3 393.2l7.1 14.8h-14.2zM508.0 393.9l7.1 14.8h-14.2zM508.6 394.7l7.1 14.8h-14.2zM509.3 395.4l7.1 14.8h-14.2zM510.0 396.1l7.1 14.8h-14.2zM510.7 396.9l7.1 14.8h-14.2zM511.3 397.6l7.1 14.8h-14.2zM512.0 398.3l7.1 14.8h-14.2zM512.7 399.1l7.1 14.8h-14.2zM513.4 399.8l7.1 14.8h-14.2zM514.1 400.5l7.1 14.8h-14.2zM514.8 401.3l7.1 14.8h-14.2zM515.4 402.0l7.1 14.8h-14.2zM516.1 402.7l7.1 14.8h-14.2zM516.8 403.4l7.1 14.8h-14.2zM517.5 404.2l7.1 14.8h-14.2zM518.2 404.9l7.1 14.8h-14.2zM518.9 405.6l7.1 14.8h-14.2zM519.6 406.3l7.1 14.8h-14.2zM520.3 407.1l7.1 14.8h-14.2zM521.0 407.8l7.1 14.8h-14.2zM521.7 408.5l7.1 14.8h-14.2zM522.4 409.2l7.1 14.8h-14.2zM523.1 409.9l7.1 14.8h-14.2zM523.8 410.6l7.1 14.8h-14.2zM524.5 411.4l7.1 14.8h-14.2zM525.2 412.1l7.1 14.8h-14.2zM525.9 412.8l7.1 14.8h-14.2zM526.6 413.5l7.1 14.8h-14.2zM527.3 414.2l7.1 14.8h-14.2zM528.0 414.9l7.1 14.8h-14.2zM528.7 415.6l7.1 14.8h-14.2zM529.4 416.3l7.1 14.8h-14.2zM530.2 417.0l7.1 14.8h-14.2zM530.9 417.7l7.1 14.8h-14.2zM531.6 418.4l7.1 14.8h-14.2zM532.3 419.1l7.1 14.8h-14.2zM533.0 419.8l7.1 14.8h-14.2zM533.7 420.5l7.1 14.8h-14.2zM534.5 421.2l7.1 14.8h-14.2zM535.2 421.9l7.1 14.8h-14.2zM535.9 422.6l7.1 14.8h-14.2zM536.6 423.3l7.1 14.8h-14.2zM537.4 423.9l7.1 14.8h-14.2zM538.1 424.6l7.1 14.8h-14.2zM538.8 425.3l7.1 14.8h-14.2zM539.5 426.0l7.1 14.8h-14.2zM540.3 426.7l7.1 14.8h-14.2zM541.0 427.4l7.1 14.8h-14.2zM541.7 428.1l7.1 14.8h-14.2zM542.5 428.7l7.1 14.8h-14.2zM543.2 429.4l7.1 14.8h-14.2zM544.0 430.1l7.1 14.8h-14.2zM544.7 430.8l7.1 14.8h-14.2zM545.4 431.4l7.1 14.8h-14.2zM546.2 432.1l7.1 14.8h-14.2zM546.9 432.8l7.1 14.8h-14.2zM547.7 433.4l7.1 14.8h-14.2zM548.4 434.1l7.1 14.8h-14.2zM549.2 434.8l7.1 14.8h-14.2zM549.9 435.4l7.1 14.8h-14.2zM550.7 436.1l7.1 14.8h-14.2zM551.4 436.8l7.1 14.8h-14.2zM552.2 437.4l7.1 14.8h-14.2zM552.9 438.1l7.1 14.8h-14.2zM553.7 438.7l7.1 14.8h-14.2zM554.4 439.4l7.1 14.8h-14.2zM555.2 440.0l7.1 14.8h-14.2zM555.9 440.7l7.1 14.8h-14.2zM556.7 441.4l7.1 14.8h-14.2zM557.5 442.0l7.1 14.8h-14.2zM558.2 442.6l7.1 14.8h-14.2zM559.0 443.3l7.1 14.8h-14.2zM559.8 443.9l7.1 14.8h-14.2zM560.5 444.6l7.1 14.8h-14.2zM561.3 445.2l7.1 14.8h-14.2zM562.1 445.9l7.1 14.8h-14.2zM562.8 446.5l7.1 14.8h-14.2zM563.6 447.1l7.1 14.8h-14.2zM564.4 447.8l7.1 14.8h-14.2zM565.2 448.4l7.1 14.8h-14.2zM565.9 449.0l7.1 14.8h-14.2zM566.7 449.7l7.1 14.8h-14.2zM567.5 450.3l7.1 14.8h-14.2zM568.3 450.9l7.1 14.8h-14.2zM569.0 451.6l7.1 14.8h-14.2zM569.8 452.2l7.1 14.8h-14.2zM570.6 452.8l7.1 14.8h-14.2zM571.4 453.4l7.1 14.8h-14.2zM572.2 454.0l7.1 14.8h-14.2zM573.0 454.7l7.1 14.8h-14.2zM573.8 455.3l7.1 14.8h-14.2zM574.5 455.9l7.1 14.8h-14.2zM575.3 456.5l7.1 14.8h-14.2zM576.1 457.1l7.1 14.8h-14.2zM576.9 457.7l7.1 14.8h-14.2zM577.7 458.3l7.1 14.8h-14.2zM578.5 459.0l7.1 14.8h-14.2zM579.3 459.6l7.1 14.8h-14.2zM580.1 460.2l7.1 14.8h-14.2zM580.9 460.8l7.1 14.8h-14.2zM581.7 461.4l7.1 14.8h-14.2zM582.5 462.0l7.1 14.8h-14.2zM583.3 462.6l7.1 14.8h-14.2zM584.1 463.2l7.1 14.8h-14.2zM584.9 463.8l7.1 14.8h-14.2zM585.7 464.3l7.1 14.8h-14.2zM586.5 464.9l7.1 14.8h-14.2zM587.3 465.5l7.1 14.8h-14.2zM588.1 466.1l7.1 14.8h-14.2zM589.0 466.7l7.1 14.8h-14.2zM589.8 467.3l7.1 14.8h-14.2zM590.6 467.9l7.1 14.8h-14.2zM591.4 468.4l7.1 14.8h-14.2zM592.2 469.0l7.1 14.8h-14.2zM593.0 469.6l7.1 14.8h-14.2zM593.9 470.2l7.1 14.8h-14.2zM594.7 470.8l7.1 14.8h-14.2zM595.5 471.3l7.1 14.8h-14.2zM596.3 471.9l7.1 14.8h-14.2zM597.1 472.5l7.1 14.8h-14.2zM598.0 473.0l7.1 14.8h-14.2zM598.8 473.6l7.1 14.8h-14.2zM599.6 474.2l7.1 14.8h-14.2zM600.4 474.7l7.1 14.8h-14.2zM601.3 475.3l7.1 14.8h-14.2zM602.1 475.8l7.1 14.8h-14.2zM602.9 476.4l7.1 14.8h-14.2zM603.8 477.0l7.1 14.8h-14.2zM604.6 477.5l7.1 14.8h-14.2zM605.4 478.1l7.1 14.8h-14.2zM606.3 478.6l7.1 14.8h-14.2zM607.1 479.2l7.1 14.8h-14.2zM608.0 479.7l7.1 14.8h-14.2zM608.8 480.2l7.1 14.8h-14.2zM609.6 480.8l7.1 14.8h-14.2zM610.5 481.3l7.1 14.8h-14.2zM611.3 481.9l7.1 14.8h-14.2zM612.2 482.4l7.1 14.8h-14.2zM613.0 482.9l7.1 14.8h-14.2zM613.9 483.5l7.1 14.8h-14.2zM614.7 484.0l7.1 14.8h-14.2zM615.5 484.5l7.1 14.8h-14.2zM616.4 485.1l7.1 14.8h-14.2zM617.3 485.6l7.1 14.8h-14.2zM618.1 486.1l7.1 14.8h-14.2zM619.0 486.6l7.1 14.8h-14.2zM619.8 487.2l7.1 14.8h-14.2zM620.7 487.7l7.1 14.8h-14.2zM621.5 488.2l7.1 14.8h-14.2zM622.4 488.7l7.1 14.8h-14.2zM623.2 489.2l7.1 14.8h-14.2zM624.1 489.7l7.1 14.8h-14.2zM625.0 490.3l7.1 14.8h-14.2zM625.8 490.8l7.1 14.8h-14.2zM626.7 491.3l7.1 14.8h-14.2zM627.6 491.8l7.1 14.8h-14.2zM628.4 492.3l7.1 14.8h-14.2zM629.3 492.8l7.1 14.8h-14.2zM630.2 493.3l7.1 14.8h-14.2zM631.0 493.8l7.1 14.8h-14.2zM631.9 494.3l7.1 14.8h-14.2zM632.8 494.8l7.1 14.8h-14.2zM633.6 495.3l7.1 14.8h-14.2zM634.5 495.7l7.1 14.8h-14.2zM635.4 496.2l7.1 14.8h-14.2zM636.3 496.7l7.1 14.8h-14.2zM637.1 497.2l7.1 14.8h-14.2zM638.0 497.7l7.1 14.8h-14.2zM638.9 498.2l7.1 14.8h-14.2zM639.8 498.6l7.1 14.8h-14.2zM640.6 499.1l7.1 14.8h-14.2zM641.5 499.6l7.1 14.8h-14.2zM642.4 500.1l7.1 14.8h-14.2zM643.3 500.5l7.1 14.8h-14.2zM644.2 501.0l7.1 14.8h-14.2zM645.1 501.5l7.1 14.8h-14.2zM645.9 501.9l7.1 14.8h-14.2zM646.8 502.4l7.1 14.8h-14.2zM647.7 502.9l7.1 14.8h-14.2zM648.6 503.3l7.1 14.8h-14.2zM649.5 503.8l7.1 14.8h-14.2zM650.4 504.2l7.1 14.8h-14.2zM651.3 504.7l7.1 14.8h-14.2zM652.2 505.1l7.1 14.8h-14.2zM653.1 505.6l7.1 14.8h-14.2zM654.0 506.0l7.1 14.8h-14.2zM654.9 506.5l7.1 14.8h-14.2zM655.8 506.9l7.1 14.8h-14.2zM656.6 507.4l7.1 14.8h-14.2zM657.5 507.8l7.1 14.8h-14.2zM658.4 508.3l7.1 14.8h-14.2zM659.3 508.7l7.1 14.8h-14.2zM660.2 509.1l7.1 14.8h-14.2zM661.1 509.6l7.1 14.8h-14.2zM662.1 510.0l7.1 14.8h-14.2zM663.0 510.4l7.1 14.8h-14.2zM663.9 510.9l7.1 14.8h-14.2zM664.8 511.3l7.1 14.8h-14.2zM665.7 511.7l7.1 14.8h-14.2zM666.6 512.1l7.1 14.8h-14.2zM667.5 512.6l7.1 14.8h-14.2zM668.4 513.0l7.1 14.8h-14.2zM669.3 513.4l7.1 14.8h-14.2zM670.2 513.8l7.1 14.8h-14.2zM671.1 514.2l7.1 14.8h-14.2zM672.0 514.6l7.1 14.8h-14.2zM673.0 515.0l7.1 14.8h-14.2zM673.9 515.4l7.1 14.8h-14.2zM674.8 515.9l7.1 14.8h-14.2zM675.7 516.3l7.1 14.8h-14.2zM676.6 516.7l7.1 14.8h-14.2zM677.5 517.1l7.1 14.8h-14.2zM678.4 517.5l7.1 14.8h-14.2zM679.4 517.9l7.1 14.8h-14.2zM680.3 518.3l7.1 14.8h-14.2zM681.2 518.6l7.1 14.8h-14.2zM682.1 519.0l7.1 14.8h-14.2zM683.1 519.4l7.1 14.8h-14.2zM684.0 519.8l7.1 14.8h-14.2zM684.9 520.2l7.1 14.8h-14.2zM685.8 520.6l7.1 14.8h-14.2zM686.7 521.0l7.1 14.8h-14.2zM687.7 521.4l7.1 14.8h-14.2zM688.6 521.7l7.1 14.8h-14.2zM689.5 522.1l7.1 14.8h-14.2zM690.5 522.5l7.1 14.8h-14.2zM691.4 522.9l7.1 14.8h-14.2zM692.3 523.2l7.1 14.8h-14.2zM693.2 523.6l7.1 14.8h-14.2zM694.2 524.0l7.1 14.8h-14.2zM695.1 524.3l7.1 14.8h-14.2zM696.0 524.7l7.1 14.8h-14.2zM697.0 525.1l7.1 14.8h-14.2zM697.9 525.4l7.1 14.8h-14.2zM698.8 525.8l7.1 14.8h-14.2zM699.8 526.1l7.1 14.8h-14.2zM700.7 526.5l7.1 14.8h-14.2zM701.6 526.9l7.1 14.8h-14.2zM702.6 527.2l7.1 14.8h-14.2zM703.5 527.6l7.1 14.8h-14.2zM704.4 527.9l7.1 14.8h-14.2zM705.4 528.3l7.1 14.8h-14.2zM706.3 528.6l7.1 14.8h-14.2zM707.3 528.9l7.1 14.8h-14.2zM708.2 529.3l7.1 14.8h-14.2zM709.1 529.6l7.1 14.8h-14.2zM710.1 530.0l7.1 14.8h-14.2zM711.0 530.3l7.1 14.8h-14.2zM712.0 530.6l7.1 14.8h-14.2zM712.9 531.0l7.1 14.8h-14.2zM713.9 531.3l7.1 14.8h-14.2zM714.8 531.7l7.1 14.8h-14.2zM715.7 532.0l7.1 14.8h-14.2zM716.7 532.3l7.1 14.8h-14.2zM717.6 532.6l7.1 14.8h-14.2zM718.6 533.0l7.1 14.8h-14.2zM719.5 533.3l7.1 14.8h-14.2zM720.5 533.6l7.1 14.8h-14.2zM721.4 533.9l7.1 14.8h-14.2zM722.4 534.3l7.1 14.8h-14.2zM723.3 534.6l7.1 14.8h-14.2zM724.3 534.9l7.1 14.8h-14.2zM725.2 535.2l7.1 14.8h-14.2zM726.2 535.5l7.1 14.8h-14.2zM727.1 535.8l7.1 14.8h-14.2zM728.1 536.1l7.1 14.8h-14.2zM729.0 536.5l7.1 14.8h-14.2zM730.0 536.8l7.1 14.8h-14.2zM730.9 537.1l7.1 14.8h-14.2zM731.9 537.4l7.1 14.8h-14.2zM732.8 537.7l7.1 14.8h-14.2zM733.8 538.0l7.1 14.8h-14.2zM734.7 538.3l7.1 14.8h-14.2zM735.7 538.6l7.1 14.8h-14.2zM736.7 538.9l7.1 14.8h-14.2zM737.6 539.2l7.1 14.8h-14.2zM738.6 539.5l7.1 14.8h-14.2zM739.5 539.8l7.1 14.8h-14.2zM740.5 540.1l7.1 14.8h-14.2zM741.4 540.4l7.1 14.8h-14.2zM742.4 540.6l7.1 14.8h-14.2zM743.4 540.9l7.1 14.8h-14.2zM744.3 541.2l7.1 14.8h-14.2zM745.3 541.5l7.1 14.8h-14.2zM746.2 541.8l7.1 14.8h-14.2zM747.2 542.1l7.1 14.8h-14.2zM748.1 542.4l7.1 14.8h-14.2zM749.1 542.7l7.1 14.8h-14.2zM750.1 542.9l7.1 14.8h-14.2zM751.0 543.2l7.1 14.8h-14.2zM752.0 543.5l7.1 14.8h-14.2zM753.0 543.8l7.1 14.8h-14.2zM753.9 544.0l7.1 14.8h-14.2zM754.9 544.3l7.1 14.8h-14.2zM755.8 544.6l7.1 14.8h-14.2zM756.8 544.9l7.1 14.8h-14.2zM757.8 545.1l7.1 14.8h-14.2zM758.7 545.4l7.1 14.8h-14.2zM759.7 545.7l7.1 14.8h-14.2zM760.7 546.0l7.1 14.8h-14.2zM761.6 546.2l7.1 14.8h-14.2zM762.6 546.5l7.1 14.8h-14.2zM763.5 546.8l7.1 14.8h-14.2zM764.5 547.0l7.1 14.8h-14.2zM765.5 547.3l7.1 14.8h-14.2zM766.4 547.5l7.1 14.8h-14.2zM767.4 547.8l7.1 14.8h-14.2zM768.4 548.1l7.1 14.8h-14.2zM769.3 548.3l7.1 14.8h-14.2zM770.3 548.6l7.1 14.8h-14.2zM771.3 548.8l7.1 14.8h-14.2zM772.2 549.1l7.1 14.8h-14.2zM773.2 549.4l7.1 14.8h-14.2zM774.2 549.6l7.1 14.8h-14.2zM775.2 549.9l7.1 14.8h-14.2zM776.1 550.1l7.1 14.8h-14.2zM777.1 550.4l7.1 14.8h-14.2zM778.1 550.6l7.1 14.8h-14.2zM779.0 550.9l7.1 14.8h-14.2zM780.0 551.1l7.1 14.8h-14.2zM781.0 551.4l7.1 14.8h-14.2zM781.9 551.6l7.1 14.8h-14.2zM782.9 551.8l7.1 14.8h-14.2zM783.9 552.1l7.1 14.8h-14.2zM784.8 552.3l7.1 14.8h-14.2zM785.8 552.6l7.1 14.8h-14.2zM786.8 552.8l7.1 14.8h-14.2zM787.8 553.1l7.1 14.8h-14.2zM788.7 553.3l7.1 14.8h-14.2zM789.7 553.5l7.1 14.8h-14.2zM790.7 553.8l7.1 14.8h-14.2zM791.7 554.0l7.1 14.8h-14.2zM792.6 554.2l7.1 14.8h-14.2zM793.6 554.5l7.1 14.8h-14.2zM794.6 554.7l7.1 14.8h-14.2zM795.5 554.9l7.1 14.8h-14.2zM796.5 555.2l7.1 14.8h-14.2zM797.5 555.4l7.1 14.8h-14.2zM798.5 555.6l7.1 14.8h-14.2zM799.4 555.8l7.1 14.8h-14.2zM800.4 556.1l7.1 14.8h-14.2zM801.4 556.3l7.1 14.8h-14.2zM802.4 556.5l7.1 14.8h-14.2zM803.4 556.7l7.1 14.8h-14.2zM804.3 556.9l7.1 14.8h-14.2zM805.3 557.2l7.1 14.8h-14.2zM806.3 557.4l7.1 14.8h-14.2zM807.3 557.6l7.1 14.8h-14.2zM808.2 557.8l7.1 14.8h-14.2zM809.2 558.0l7.1 14.8h-14.2zM810.2 558.2l7.1 14.8h-14.2zM811.2 558.5l7.1 14.8h-14.2zM812.1 558.7l7.1 14.8h-14.2zM813.1 558.9l7.1 14.8h-14.2zM814.1 559.1l7.1 14.8h-14.2zM815.1 559.3l7.1 14.8h-14.2zM816.1 559.5l7.1 14.8h-14.2zM817.0 559.7l7.1 14.8h-14.2zM818.0 559.9l7.1 14.8h-14.2zM819.0 560.1l7.1 14.8h-14.2zM820.0 560.3l7.1 14.8h-14.2zM821.0 560.5l7.1 14.8h-14.2zM821.9 560.7l7.1 14.8h-14.2zM822.9 560.9l7.1 14.8h-14.2zM823.9 561.1l7.1 14.8h-14.2zM824.9 561.3l7.1 14.8h-14.2zM825.9 561.5l7.1 14.8h-14.2zM826.8 561.7l7.1 14.8h-14.2zM827.8 561.9l7.1 14.8h-14.2zM828.8 562.1l7.1 14.8h-14.2zM829.8 562.3l7.1 14.8h-14.2zM830.8 562.5l7.1 14.8h-14.2zM831.8 562.7l7.1 14.8h-14.2zM832.7 562.9l7.1 14.8h-14.2zM833.7 563.1l7.1 14.8h-14.2zM834.7 563.3l7.1 14.8h-14.2zM835.7 563.5l7.1 14.8h-14.2zM836.7 563.6l7.1 14.8h-14.2zM837.7 563.8l7.1 14.8h-14.2zM838.6 564.0l7.1 14.8h-14.2zM839.6 564.2l7.1 14.8h-14.2zM840.6 564.4l7.1 14.8h-14.2zM841.6 564.6l7.1 14.8h-14.2zM842.6 564.7l7.1 14.8h-14.2zM843.6 564.9l7.1 14.8h-14.2zM844.5 565.1l7.1 14.8h-14.2zM845.5 565.3l7.1 14.8h-14.2zM846.5 565.5l7.1 14.8h-14.2zM847.5 565.6l7.1 14.8h-14.2zM848.5 565.8l7.1 14.8h-14.2zM849.5 566.0l7.1 14.8h-14.2zM850.5 566.1l7.1 14.8h-14.2zM851.4 566.3l7.1 14.8h-14.2zM852.4 566.5l7.1 14.8h-14.2zM853.4 566.7l7.1 14.8h-14.2zM854.4 566.8l7.1 14.8h-14.2zM855.4 567.0l7.1 14.8h-14.2zM856.4 567.2l7.1 14.8h-14.2zM857.4 567.3l7.1 14.8h-14.2zM858.3 567.5l7.1 14.8h-14.2zM859.3 567.7l7.1 14.8h-14.2zM860.3 567.8l7.1 14.8h-14.2zM861.3 568.0l7.1 14.8h-14.2zM862.3 568.1l7.1 14.8h-14.2zM863.3 568.3l7.1 14.8h-14.2zM864.3 568.5l7.1 14.8h-14.2zM865.3 568.6l7.1 14.8h-14.2zM866.2 568.8l7.1 14.8h-14.2zM867.2 568.9l7.1 14.8h-14.2zM868.2 569.1l7.1 14.8h-14.2zM869.2 569.2l7.1 14.8h-14.2zM870.2 569.4l7.1 14.8h-14.2zM871.2 569.5l7.1 14.8h-14.2zM872.2 569.7l7.1 14.8h-14.2zM873.2 569.8l7.1 14.8h-14.2zM874.2 570.0l7.1 14.8h-14.2zM875.2 570.1l7.1 14.8h-14.2zM876.1 570.3l7.1 14.8h-14.2zM877.1 570.4l7.1 14.8h-14.2zM878.1 570.6l7.1 14.8h-14.2zM879.1 570.7l7.1 14.8h-14.2zM880.1 570.9l7.1 14.8h-14.2zM881.1 571.0l7.1 14.8h-14.2zM882.1 571.2l7.1 14.8h-14.2zM883.1 571.3l7.1 14.8h-14.2zM884.1 571.4l7.1 14.8h-14.2zM885.1 571.6l7.1 14.8h-14.2zM886.0 571.7l7.1 14.8h-14.2zM887.0 571.9l7.1 14.8h-14.2zM888.0 572.0l7.1 14.8h-14.2zM889.0 572.1l7.1 14.8h-14.2zM890.0 572.3l7.1 14.8h-14.2zM891.0 572.4l7.1 14.8h-14.2zM892.0 572.5l7.1 14.8h-14.2zM893.0 572.7l7.1 14.8h-14.2zM894.0 572.8l7.1 14.8h-14.2zM895.0 572.9l7.1 14.8h-14.2zM896.0 573.0l7.1 14.8h-14.2zM897.0 573.2l7.1 14.8h-14.2zM898.0 573.3l7.1 14.8h-14.2zM898.9 573.4l7.1 14.8h-14.2zM899.9 573.6l7.1 14.8h-14.2zM900.9 573.7l7.1 14.8h-14.2zM901.9 573.8l7.1 14.8h-14.2zM902.9 573.9l7.1 14.8h-14.2zM903.9 574.0l7.1 14.8h-14.2zM904.9 574.2l7.1 14.8h-14.2zM905.9 574.3l7.1 14.8h-14.2zM906.9 574.4l7.1 14.8h-14.2zM907.9 574.5l7.1 14.8h-14.2zM908.9 574.6l7.1 14.8h-14.2zM909.9 574.8l7.1 14.8h-14.2zM910.9 574.9l7.1 14.8h-14.2zM911.9 575.0l7.1 14.8h-14.2zM912.9 575.1l7.1 14.8h-14.2zM913.9 575.2l7.1 14.8h-14.2zM914.8 575.3l7.1 14.8h-14.2zM915.8 575.4l7.1 14.8h-14.2zM916.8 575.5l7.1 14.8h-14.2zM917.8 575.7l7.1 14.8h-14.2zM918.8 575.8l7.1 14.8h-14.2zM919.8 575.9l7.1 14.8h-14.2zM920.8 576.0l7.1 14.8h-14.2zM921.8 576.1l7.1 14.8h-14.2zM922.8 576.2l7.1 14.8h-14.2zM923.8 576.3l7.1 14.8h-14.2zM924.8 576.4l7.1 14.8h-14.2zM925.8 576.5l7.1 14.8h-14.2zM926.8 576.6l7.1 14.8h-14.2zM927.8 576.7l7.1 14.8h-14.2zM928.8 576.8l7.1 14.8h-14.2zM929.8 576.9l7.1 14.8h-14.2zM930.8 577.0l7.1 14.8h-14.2zM931.8 577.1l7.1 14.8h-14.2zM932.8 577.2l7.1 14.8h-14.2zM933.8 577.3l7.1 14.8h-14.2zM934.8 577.4l7.1 14.8h-14.2zM935.8 577.5l7.1 14.8h-14.2zM936.7 577.6l7.1 14.8h-14.2zM937.7 577.7l7.1 14.8h-14.2zM938.7 577.8l7.1 14.8h-14.2zM939.7 577.9l7.1 14.8h-14.2zM940.7 578.0l7.1 14.8h-14.2zM941.7 578.0l7.1 14.8h-14.2zM942.7 578.1l7.1 14.8h-14.2zM943.7 578.2l7.1 14.8h-14.2zM944.7 578.3l7.1 14.8h-14.2zM945.7 578.4l7.1 14.8h-14.2zM946.7 578.5l7.1 14.8h-14.2zM947.7 578.6l7.1 14.8h-14.2zM948.7 578.6l7.1 14.8h-14.2zM949.7 578.7l7.1 14.8h-14.2zM950.7 578.8l7.1 14.8h-14.2zM951.7 578.9l7.1 14.8h-14.2zM952.7 579.0l7.1 14.8h-14.2zM953.7 579.1l7.1 14.8h-14.2z" fill="#3b5cf6"/>
<path d="M120.5 646.8L127.0 660.0H113.9Z" fill="none" stroke="#3b5cf6" stroke-width="1.1"/>
<path d="M120.5 601.1L127.0 614.3H113.9Z" fill="none" stroke="#3b5cf6" stroke-width="1.1"/>
<g class="tx">
<text transform="translate(96.6 662.50) scale(1 1.055)" text-anchor="end">0%</text>
<text transform="translate(96.6 571.14) scale(1 1.055)" text-anchor="end">5%</text>
<text transform="translate(96.6 479.79) scale(1 1.055)" text-anchor="end">10%</text>
<text transform="translate(96.6 388.43) scale(1 1.055)" text-anchor="end">15%</text>
<text transform="translate(96.6 297.07) scale(1 1.055)" text-anchor="end">20%</text>
<text transform="translate(96.6 205.71) scale(1 1.055)" text-anchor="end">25%</text>
<text transform="translate(96.6 114.36) scale(1 1.055)" text-anchor="end">30%</text>
<text transform="translate(96.6 23.00) scale(1 1.055)" text-anchor="end">35%</text>
<text transform="translate(120.15 695.6) scale(1 1.055)" text-anchor="middle">0</text>
<text transform="translate(286.80 695.6) scale(1 1.055)" text-anchor="middle">20</text>
<text transform="translate(453.45 695.6) scale(1 1.055)" text-anchor="middle">40</text>
<text transform="translate(620.10 695.6) scale(1 1.055)" text-anchor="middle">60</text>
<text transform="translate(786.75 695.6) scale(1 1.055)" text-anchor="middle">80</text>
<text transform="translate(953.40 695.6) scale(1 1.055)" text-anchor="middle">100</text>
<text transform="translate(536.5 726.4) scale(1 1.055)" text-anchor="middle">Time [s]</text>
<text transform="translate(24.8 323.9) rotate(-90) scale(0.994 1.055)" text-anchor="middle">Average hydrogen concentration [%]</text>
</g>
<rect x="604.5" y="25.1" width="342.2" height="93.3" fill="#000"/>
<rect x="600.8" y="22.2" width="341.4" height="92.4" fill="#fff" stroke="#000" stroke-width="1.5"/>
<path d="M640.7 38.6L647.3 51.6H634.1Z" fill="none" stroke="#3b5cf6" stroke-width="1.2"/>
<path d="M619.2 91.5H656" stroke="#000" stroke-width="4.3" stroke-linecap="round" stroke-dasharray="0 8.92"/>
<g class="tx">
<text transform="translate(668.2 53.9) scale(1 1.055)">8mm experimental data</text>
<text transform="translate(668.2 100.2) scale(1 1.055)">FLACS simulations</text>
</g>
</svg></body></html>
